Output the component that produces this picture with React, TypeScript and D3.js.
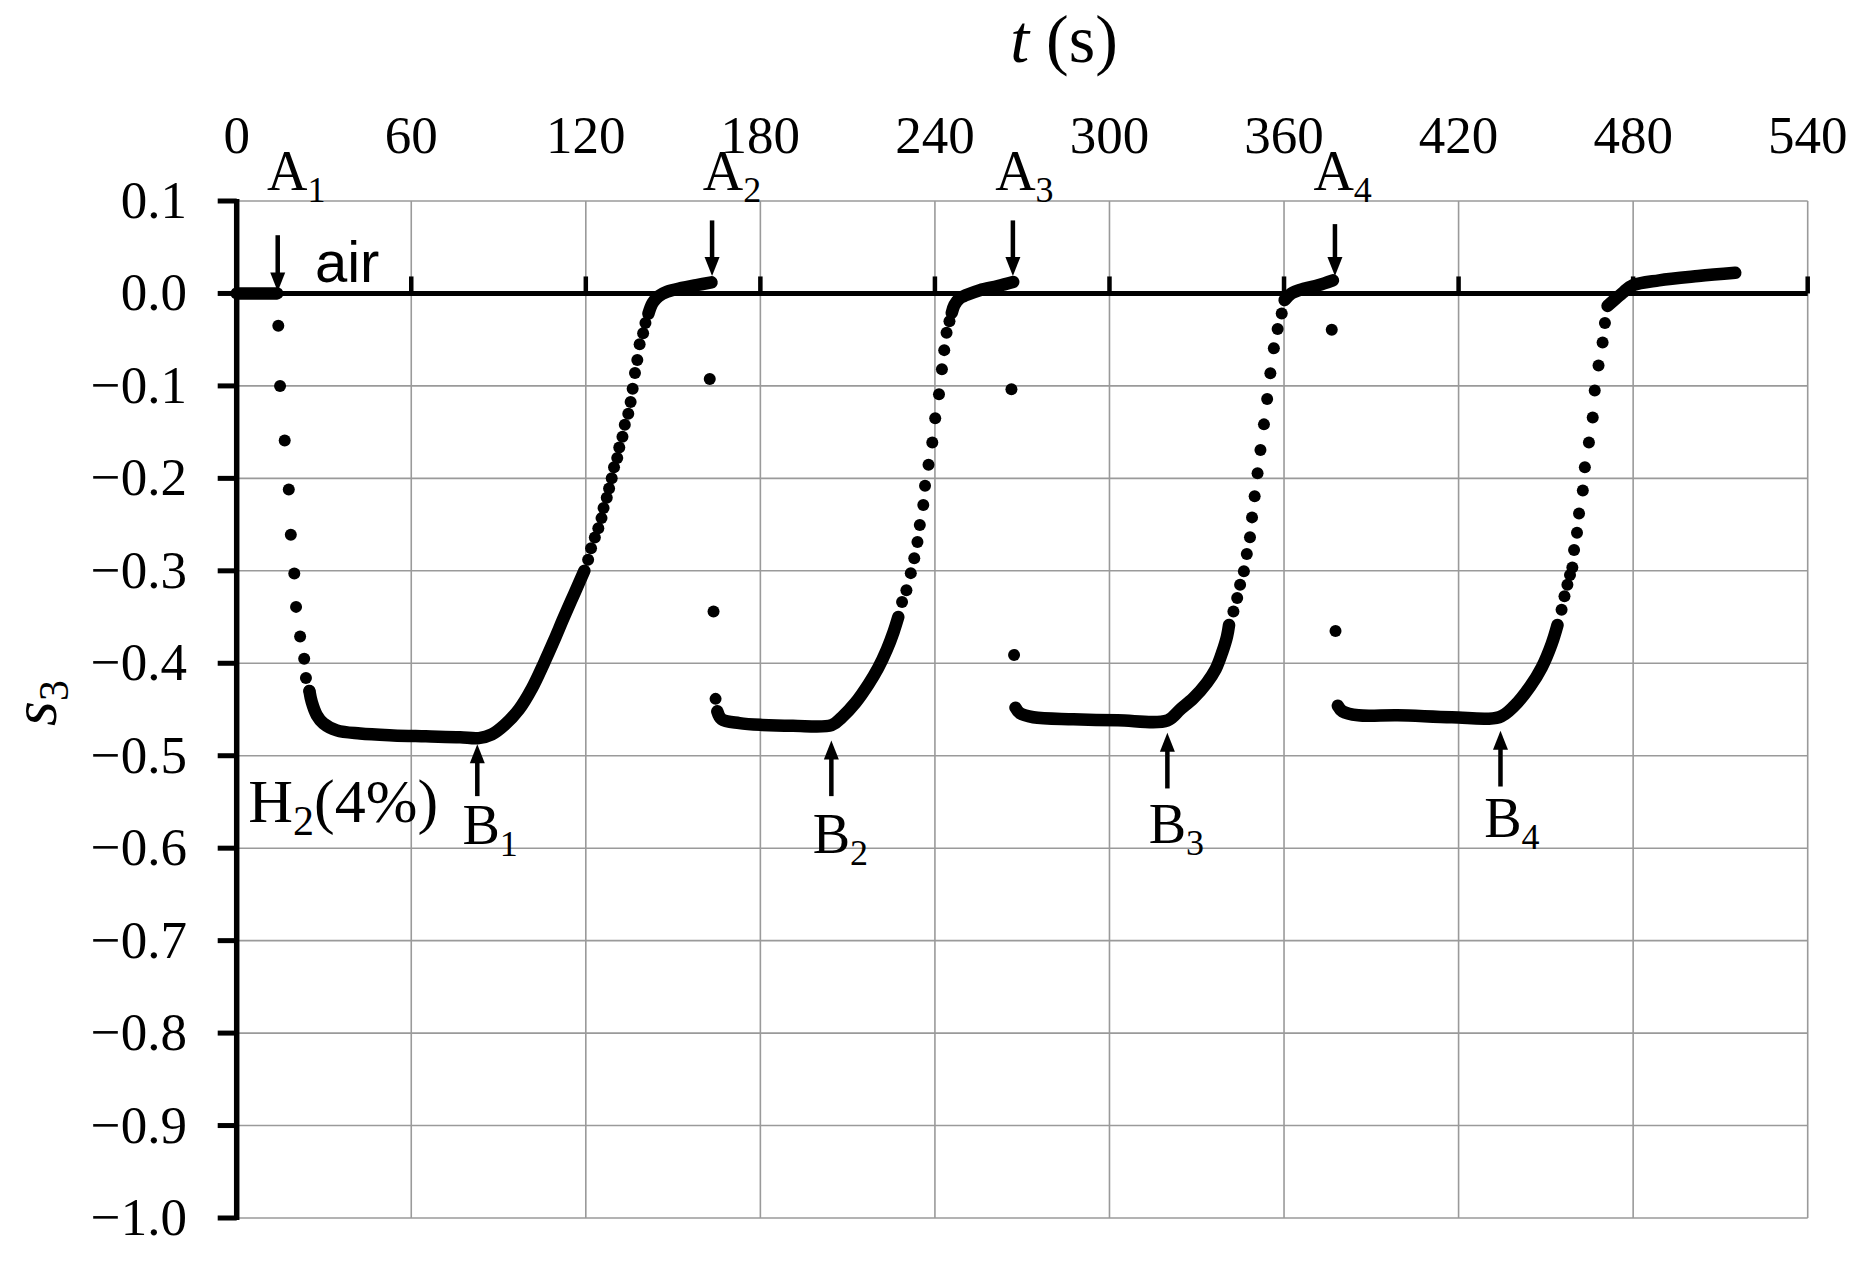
import React from "react";
import * as d3 from "d3";

type P = [number, number];

// axis ticks
const timeTicks: number[] = [0, 60, 120, 180, 240, 300, 360, 420, 480, 540];
const s3Ticks: number[] = [0.1, 0.0, -0.1, -0.2, -0.3, -0.4, -0.5, -0.6, -0.7, -0.8, -0.9, -1.0];

// ---- data: cycle 1 ----
const base0: P[] = [[0, 0.0], [6, 0.0], [13.9, 0.0]];
const drop1Dots: P[] = [
  [14.3, -0.035], [14.9, -0.1], [16.5, -0.159], [17.9, -0.212], [18.6, -0.261],
  [19.8, -0.303], [20.4, -0.339], [21.8, -0.371], [23.2, -0.395], [23.8, -0.416], [25.0, -0.43],
];
const band1: P[] = [
  [25.0, -0.43], [25.8, -0.442], [27.5, -0.456], [29.8, -0.465], [34.4, -0.4726], [42.4, -0.476],
  [53.8, -0.478], [65, -0.479], [76.8, -0.48], [83.2, -0.481], [87.7, -0.477], [92, -0.467],
  [97, -0.45], [101.5, -0.427], [105.6, -0.4], [109, -0.376], [112.5, -0.35], [116, -0.325],
  [119.5, -0.3],
];
const rise1Dots: P[] = [
  [120.8, -0.288], [121.8, -0.2755], [123.1, -0.264], [124.3, -0.254], [125.4, -0.243],
  [126.1, -0.232], [127.2, -0.221], [128.0, -0.211], [128.9, -0.2], [129.7, -0.188],
  [130.8, -0.178], [131.5, -0.1665], [132.6, -0.155], [133.4, -0.142], [134.6, -0.13],
  [135.4, -0.1175], [136.1, -0.103], [136.9, -0.086], [137.7, -0.072], [138.5, -0.055],
  [139.7, -0.043], [140.5, -0.032],
];
const top1: P[] = [
  [141.5, -0.022], [143, -0.01], [145, -0.003], [148, 0.002], [153, 0.006], [158, 0.009], [163.2, 0.012],
];

// ---- cycle 2 ----
const drop2Dots: P[] = [[162.6, -0.0925], [163.9, -0.344], [164.6, -0.4385]];
const band2: P[] = [
  [165.2, -0.452], [166.7, -0.4605], [172.8, -0.4647], [180.5, -0.4667], [191.2, -0.4676],
  [204.5, -0.467], [208, -0.4585], [212.6, -0.443], [217.2, -0.4225], [220.5, -0.405],
  [223.5, -0.385], [225.8, -0.366], [227.4, -0.35],
];
const rise2Dots: P[] = [
  [228.7, -0.3337], [230.2, -0.321], [231.7, -0.3025], [232.9, -0.2863], [234.0, -0.2688],
  [234.8, -0.2505], [236.0, -0.2289], [236.6, -0.2081], [237.8, -0.1852], [239.1, -0.1611],
  [240.1, -0.1349], [241.4, -0.1091], [242.4, -0.0821], [243.2, -0.0613], [244.0, -0.0426],
  [245.0, -0.0301],
];
const top2: P[] = [
  [245.8, -0.021], [246.7, -0.0124], [248.5, -0.0053], [250.8, -0.0018], [255.4, 0.0035],
  [261.6, 0.008], [266.9, 0.0124],
];

// ---- cycle 3 ----
const drop3Dots: P[] = [[266.3, -0.1037], [267.2, -0.391]];
const band3: P[] = [
  [267.7, -0.448], [269.2, -0.454], [273.8, -0.4584], [287.6, -0.4605], [302.9, -0.4617],
  [320, -0.4617], [324.3, -0.45], [328.9, -0.4376], [333.5, -0.421], [336.5, -0.4064],
  [338.8, -0.3877], [340.4, -0.371], [341.1, -0.3586],
];
const rise3Dots: P[] = [
  [342.6, -0.3441], [343.9, -0.3295], [344.9, -0.315], [346.2, -0.3004], [347.2, -0.2817],
  [348.3, -0.2638], [349.0, -0.2422], [349.9, -0.2193], [350.9, -0.1944], [351.9, -0.1694],
  [353.1, -0.1416], [354.2, -0.1141], [355.3, -0.0863], [356.5, -0.0593], [357.8, -0.0385],
  [359.2, -0.0218],
];
const top3: P[] = [
  [360.2, -0.0071], [362.5, 0.0], [367.1, 0.0053], [371.7, 0.0089], [376.8, 0.0142],
];

// ---- cycle 4 ----
const drop4Dots: P[] = [[376.4, -0.0393], [377.7, -0.365]];
const band4: P[] = [
  [378.5, -0.446], [380.1, -0.452], [385.5, -0.4563], [399, -0.4563], [417.7, -0.4584],
  [433.9, -0.4584], [439.2, -0.446], [444.6, -0.425], [448.6, -0.4044], [452, -0.379],
  [454, -0.3586],
];
const rise4Dots: P[] = [
  [455.4, -0.342], [456.4, -0.3274], [457.4, -0.315], [458.3, -0.3046], [459.1, -0.2963],
  [459.7, -0.2775], [460.7, -0.2588], [461.4, -0.238], [462.7, -0.2131], [463.4, -0.1881],
  [464.8, -0.1611], [466.1, -0.1341], [466.8, -0.105], [468.1, -0.078], [469.5, -0.053],
  [470.3, -0.032],
];
const top4: P[] = [
  [471.2, -0.0135], [473.5, -0.0071], [476.8, 0.0018], [479.9, 0.0089], [488.9, 0.0142],
  [502.4, 0.0188], [515.1, 0.0223],
];

// ---- annotations (data units) ----
const aMarks = [
  { sub: "1", t: 14.1, from: 0.063, to: 0.002, labelT: 10.4 },
  { sub: "2", t: 163.4, from: 0.079, to: 0.019, labelT: 160.2 },
  { sub: "3", t: 266.8, from: 0.079, to: 0.019, labelT: 260.7 },
  { sub: "4", t: 377.5, from: 0.075, to: 0.019, labelT: 370.1 },
];
const aLabelS = 0.112;
const bMarks = [
  { sub: "1", t: 82.7, tip: -0.4876, tail: -0.5437, labelT: 77.6, labelS: -0.595 },
  { sub: "2", t: 204.4, tip: -0.4834, tail: -0.5437, labelT: 198.0, labelS: -0.605 },
  { sub: "3", t: 319.9, tip: -0.4751, tail: -0.5354, labelT: 313.5, labelS: -0.594 },
  { sub: "4", t: 434.4, tip: -0.473, tail: -0.5333, labelT: 428.8, labelS: -0.588 },
];
const airLabel = { t: 26.9, s: 0.0128 };
const h2Label = { t: 4.0, s: -0.5713 };

const SERIF = '"Liberation Serif", "Times New Roman", serif';
const SANS = '"Liberation Sans", Arial, sans-serif';

function fmt(v: number): string {
  const r = Math.round(v * 10) / 10;
  return (r < 0 ? "\u2212" : "") + Math.abs(r).toFixed(1);
}

function Arrow({ x, y1, y2 }: { x: number; y1: number; y2: number }) {
  const dir = y2 > y1 ? 1 : -1;
  const hl = 19;
  const hw = 7.5;
  const base = y2 - dir * hl;
  return (
    <g>
      <line x1={x} y1={y1} x2={x} y2={base + dir * 2} stroke="#000" strokeWidth={4.5} />
      <polygon points={`${x},${y2} ${x - hw},${base} ${x + hw},${base}`} fill="#000" />
    </g>
  );
}

export default function App() {
  const W = 1862;
  const H = 1262;
  const x = d3.scaleLinear().domain([0, 540]).range([236.7, 1807.7]);
  const y = d3.scaleLinear().domain([-1.0, 0.1]).range([1218, 201]);
  const line = d3
    .line<P>()
    .x((d) => x(d[0]))
    .y((d) => y(d[1]))
    .curve(d3.curveCatmullRom.alpha(0.5));

  const bands: P[][] = [base0, band1, top1, band2, top2, band3, top3, band4, top4];
  const dots: P[] = [
    ...drop1Dots, ...rise1Dots, ...drop2Dots, ...rise2Dots,
    ...drop3Dots, ...rise3Dots, ...drop4Dots, ...rise4Dots,
  ];

  const x0 = x(0);
  const x1 = x(540);
  const yTop = y(0.1);
  const yBot = y(-1.0);
  const yZero = y(0);

  return (
    <svg
      width={W}
      height={H}
      viewBox={`0 0 ${W} ${H}`}
      style={{ position: "absolute", left: 0, top: 0, background: "#fff" }}
      fontFamily={SERIF}
    >
      <rect x={0} y={0} width={W} height={H} fill="#fff" />
      {/* grid */}
      <g stroke="#9a9a9a" strokeWidth={1.6}>
        {timeTicks.filter((t) => t > 0).map((t) => (
          <line key={"gx" + t} x1={x(t)} x2={x(t)} y1={yTop} y2={yBot} />
        ))}
        {s3Ticks.map((s) => (
          <line key={"gy" + s} x1={x0} x2={x1} y1={y(s)} y2={y(s)} />
        ))}
      </g>

      {/* y axis */}
      <line x1={x0} x2={x0} y1={yTop - 2} y2={yBot + 2} stroke="#000" strokeWidth={5.5} />
      {s3Ticks.map((s) => (
        <line key={"ty" + s} x1={x0 - 19} x2={x0} y1={y(s)} y2={y(s)} stroke="#000" strokeWidth={5} />
      ))}
      {s3Ticks.map((s) => (
        <text key={"ly" + s} x={187} y={y(s) + 17} textAnchor="end" fontSize={53} fill="#000">
          {fmt(s)}
        </text>
      ))}

      {/* x axis at s=0 */}
      <line x1={x0} x2={x1} y1={yZero} y2={yZero} stroke="#000" strokeWidth={5} />
      {timeTicks.filter((t) => t > 0).map((t) => (
        <line key={"tx" + t} x1={x(t)} x2={x(t)} y1={yZero - 17} y2={yZero} stroke="#000" strokeWidth={4.5} />
      ))}
      {timeTicks.map((t) => (
        <text key={"lx" + t} x={x(t)} y={153} textAnchor="middle" fontSize={53} fill="#000">
          {t}
        </text>
      ))}

      {/* titles */}
      <text x={1064} y={62} textAnchor="middle" fontSize={68} fill="#000">
        <tspan fontStyle="italic">t</tspan>
        <tspan>{" (s)"}</tspan>
      </text>
      <text transform="translate(56,703) rotate(-90)" textAnchor="middle" fontSize={64} fill="#000">
        <tspan fontStyle="italic">s</tspan>
        <tspan fontSize={42} dy={12}>3</tspan>
      </text>

      {/* data */}
      <g fill="none" stroke="#000" strokeWidth={12.5} strokeLinecap="round" strokeLinejoin="round">
        {bands.map((b, i) => (
          <path key={"b" + i} d={line(b) || ""} />
        ))}
      </g>
      <g fill="#000">
        {dots.map((d, i) => (
          <circle key={"d" + i} cx={x(d[0])} cy={y(d[1])} r={6} />
        ))}
      </g>

      {/* annotations */}
      {aMarks.map((a) => (
        <g key={"A" + a.sub}>
          <Arrow x={x(a.t)} y1={y(a.from)} y2={y(a.to)} />
          <text x={x(a.labelT)} y={y(aLabelS)} fontSize={56} fill="#000">
            A<tspan fontSize={36} dy={12}>{a.sub}</tspan>
          </text>
        </g>
      ))}
      {bMarks.map((b) => (
        <g key={"B" + b.sub}>
          <Arrow x={x(b.t)} y1={y(b.tail)} y2={y(b.tip)} />
          <text x={x(b.labelT)} y={y(b.labelS)} fontSize={56} fill="#000">
            B<tspan fontSize={36} dy={12}>{b.sub}</tspan>
          </text>
        </g>
      ))}
      <text x={x(airLabel.t)} y={y(airLabel.s)} fontSize={58} fontFamily={SANS} fill="#000">
        air
      </text>
      <text x={x(h2Label.t)} y={y(h2Label.s)} fontSize={62} fill="#000">
        H<tspan fontSize={42} dy={13}>2</tspan>
        <tspan dy={-13}>(4%)</tspan>
      </text>
    </svg>
  );
}
